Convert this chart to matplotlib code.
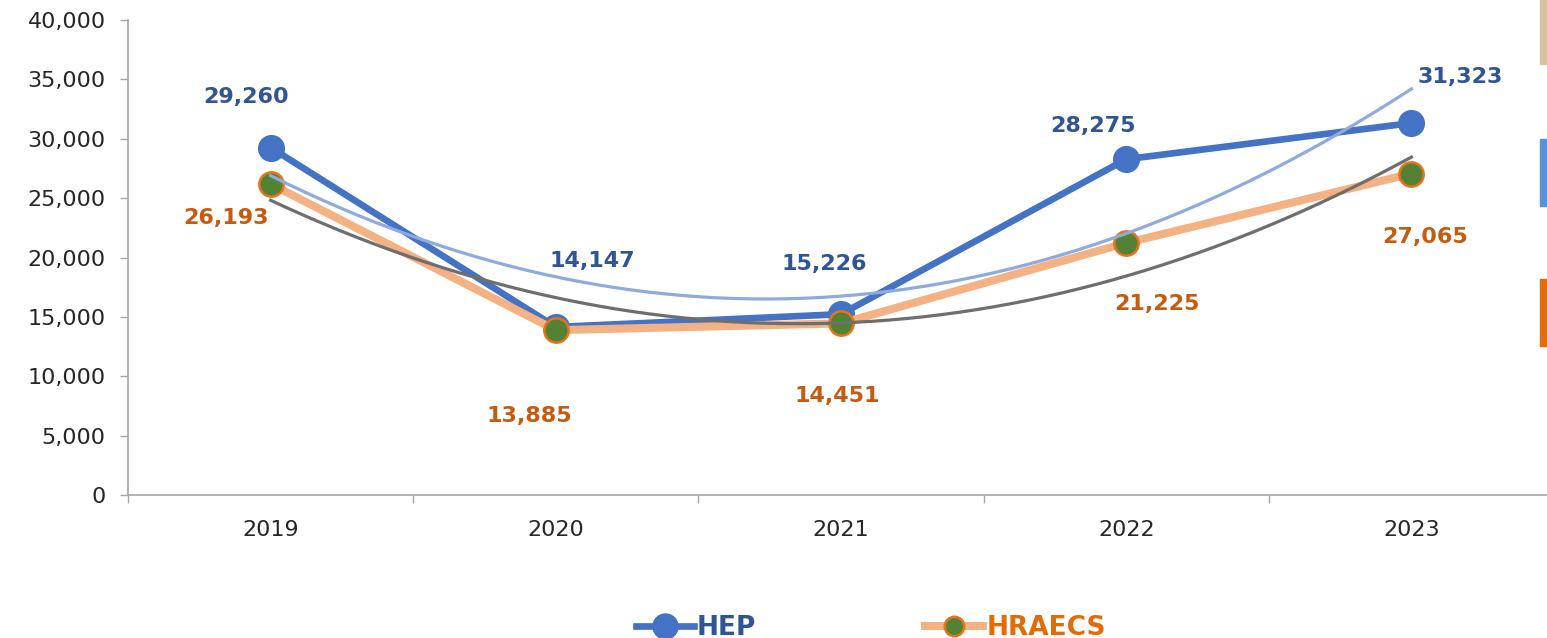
import numpy as np
import matplotlib.pyplot as plt
from matplotlib.lines import Line2D
from matplotlib.patches import Rectangle

years = ['2019', '2020', '2021', '2022', '2023']
hep = [29260, 14147, 15226, 28275, 31323]
hraecs = [26193, 13885, 14451, 21225, 27065]

# label offsets in pixels (dx, dy) from each point
hep_off = [(-25, 51), (37, 66), (-17, 50), (-33, 33), (49, 46)]
hra_off = [(-45, -34), (-26, -86), (-4, -73), (31, -61), (14, -63)]

fig = plt.figure(figsize=(15.47, 6.38), dpi=100)
ax = fig.add_axes([128 / 1547, 143 / 638, 1426 / 1547, 475 / 638])

x = np.arange(len(years))

ax.plot(x, hep, color='#4472C4', lw=4.8, marker='o', ms=18.5,
        mfc='#4472C4', mec='#4472C4', zorder=3, solid_capstyle='round')
ax.plot(x, hraecs, color='#F4B183', lw=5.8, marker='o', ms=17.5,
        mfc='#548235', mec='#E8731B', mew=1.8, zorder=4, solid_capstyle='round')

# order 2 polynomial trendlines
xs = np.linspace(0, 4, 200)
c1 = np.polyfit(x, hep, 2)
c2 = np.polyfit(x, hraecs, 2)
ax.plot(xs, np.polyval(c1, xs), color='#8FAADC', lw=2.3, zorder=5)
ax.plot(xs, np.polyval(c2, xs), color='#6E6E6E', lw=2.3, zorder=5)

for i in range(len(years)):
    ax.annotate(f'{hep[i]:,}', (x[i], hep[i]), xytext=hep_off[i],
                textcoords='offset pixels', ha='center', va='center',
                fontsize=16, fontweight='bold', color='#2F5597')
    ax.annotate(f'{hraecs[i]:,}', (x[i], hraecs[i]), xytext=hra_off[i],
                textcoords='offset pixels', ha='center', va='center',
                fontsize=16, fontweight='bold', color='#C55A11')

ax.set_xlim(-0.5, 4.5)
ax.set_ylim(0, 40000)
ax.set_yticks(np.arange(0, 40001, 5000))
ax.set_yticklabels([f'{v:,}' for v in range(0, 40001, 5000)])
ax.set_xticks(x)
ax.set_xticklabels(years)
ax.set_xticks(np.arange(-0.5, 4.6, 1), minor=True)
ax.tick_params(axis='x', which='major', length=0, pad=18, labelsize=16, colors='#262626')
ax.tick_params(axis='x', which='minor', length=6, width=1, color='#A6A6A6', direction='out')
ax.tick_params(axis='y', length=6, width=1, color='#A6A6A6', pad=10, labelsize=16, labelcolor='#262626')

for s in ['top', 'right']:
    ax.spines[s].set_visible(False)
for s in ['left', 'bottom']:
    ax.spines[s].set_color('#A6A6A6')
    ax.spines[s].set_linewidth(1.2)

handles = [
    Line2D([], [], color='#4472C4', lw=4.8, marker='o', ms=18, mfc='#4472C4', mec='#4472C4'),
    Line2D([], [], color='#F4B183', lw=5.8, marker='o', ms=14, mfc='#548235', mec='#E8731B', mew=1.8),
]
leg = fig.legend(handles, ['HEP', 'HRAECS'], loc='center', bbox_to_anchor=(0.563, 0.016),
                 ncol=2, frameon=False, handlelength=2.2, handletextpad=0.12,
                 columnspacing=6.4, prop={'size': 19, 'weight': 'bold'})
for t, c in zip(leg.get_texts(), ['#2F5597', '#E36C09']):
    t.set_color(c)

# cut-off side elements at the right edge
for y0, y1, c in [(0, 64, '#D6C29E'), (139, 206, '#5B91D9'), (279, 346, '#E36C0E')]:
    fig.patches.append(Rectangle((1540 / 1547, 1 - y1 / 638), 7 / 1547, (y1 - y0) / 638,
                                 transform=fig.transFigure, color=c, zorder=10))

fig.savefig('out.png', dpi=100)
